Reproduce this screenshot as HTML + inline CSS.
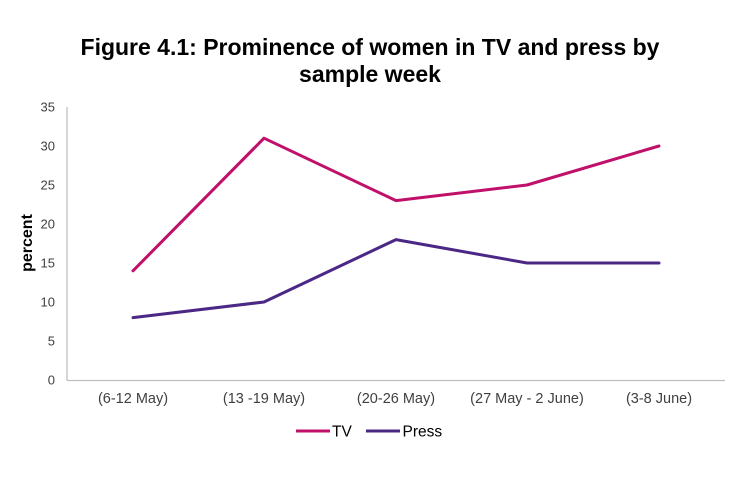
<!DOCTYPE html>
<html>
<head>
<meta charset="utf-8">
<style>
  html, body { margin: 0; padding: 0; background: #ffffff; }
  svg { display: block; }
  text { font-family: "Liberation Sans", Arial, sans-serif; }
</style>
</head>
<body>
<svg width="755" height="486" viewBox="0 0 755 486" xmlns="http://www.w3.org/2000/svg">
  <rect x="0" y="0" width="755" height="486" fill="#ffffff"/>

  <!-- Title -->
  <text x="370" y="55" text-anchor="middle" font-size="23" font-weight="bold" fill="#000000">Figure 4.1: Prominence of women in TV and press by</text>
  <text x="370" y="82" text-anchor="middle" font-size="23" font-weight="bold" fill="#000000">sample week</text>

  <!-- Axes -->
  <line x1="67" y1="107" x2="67" y2="380.5" stroke="#bfbfbf" stroke-width="1.3"/>
  <line x1="67" y1="380.5" x2="725" y2="380.5" stroke="#bfbfbf" stroke-width="1.3"/>

  <!-- Y tick labels -->
  <g font-size="13" fill="#404040" text-anchor="end">
    <text x="55" y="384.5">0</text>
    <text x="55" y="345.5">5</text>
    <text x="55" y="306.5">10</text>
    <text x="55" y="267.5">15</text>
    <text x="55" y="228.5">20</text>
    <text x="55" y="189.5">25</text>
    <text x="55" y="150.5">30</text>
    <text x="55" y="111.5">35</text>
  </g>

  <!-- Y axis title -->
  <text x="0" y="0" transform="translate(32,243) rotate(-90)" text-anchor="middle" font-size="16" font-weight="bold" fill="#000000">percent</text>

  <!-- X labels -->
  <g font-size="14.5" fill="#404040" text-anchor="middle">
    <text x="133" y="403">(6-12 May)</text>
    <text x="264" y="403">(13 -19 May)</text>
    <text x="396" y="403">(20-26 May)</text>
    <text x="527" y="403">(27 May - 2 June)</text>
    <text x="659" y="403">(3-8 June)</text>
  </g>

  <!-- Series -->
  <polyline fill="none" stroke="#c0106a" stroke-width="3" stroke-linejoin="round" stroke-linecap="round"
    points="133,270.8 264,138.2 396,200.6 527,185 659,146"/>
  <polyline fill="none" stroke="#4b2786" stroke-width="3" stroke-linejoin="round" stroke-linecap="round"
    points="133,317.6 264,302 396,239.6 527,263 659,263"/>

  <!-- Legend -->
  <line x1="296" y1="431" x2="330" y2="431" stroke="#c0106a" stroke-width="3"/>
  <text x="332" y="436.5" font-size="15.5" fill="#000000">TV</text>
  <line x1="366" y1="431" x2="400" y2="431" stroke="#4b2786" stroke-width="3"/>
  <text x="402.5" y="436.5" font-size="15.5" fill="#000000">Press</text>
</svg>
</body>
</html>
